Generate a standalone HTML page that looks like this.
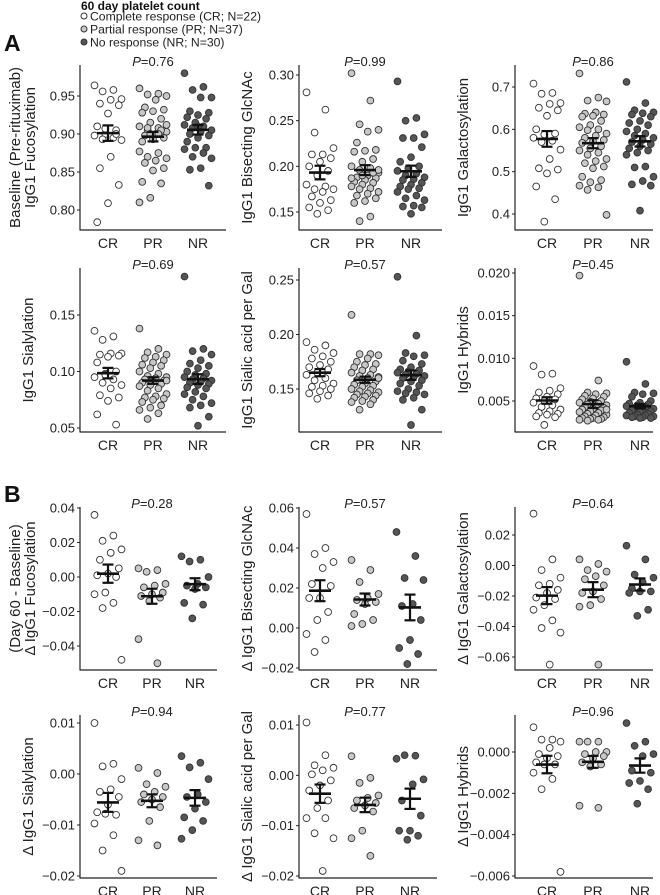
<!DOCTYPE html>
<html><head><meta charset="utf-8"><style>
body{margin:0;background:#fff;}
svg{display:block;font-family:"Liberation Sans",Arial,sans-serif;}
</style></head><body>
<svg id="fig" width="660" height="895" viewBox="0 0 660 895">
<text x="81" y="10" font-size="12" font-weight="bold" fill="#111">60 day platelet count</text>
<g><circle cx="84" cy="16" r="3" fill="#fff" stroke="#333"/><text x="90" y="20.5" font-size="12.2" fill="#222">Complete response (CR; N=22)</text></g>
<g><circle cx="84" cy="29" r="3" fill="#c8c8c8" stroke="#333"/><text x="90" y="33.5" font-size="12.2" fill="#222">Partial response (PR; N=37)</text></g>
<g><circle cx="84" cy="42" r="3" fill="#555" stroke="#333"/><text x="90" y="46.5" font-size="12.2" fill="#222">No response (NR; N=30)</text></g>
<text x="4" y="51" font-size="23" font-weight="bold" fill="#111">A</text>
<text x="4" y="502" font-size="23" font-weight="bold" fill="#111">B</text>
</svg>
<script>
const groups = ["CR","PR","NR"];
const pValues = ["0.76","0.99","0.86","0.69","0.57","0.45","0.28","0.57","0.64","0.94","0.77","0.96"];
const yTitles = [["Baseline (Pre-rituximab)","IgG1 Fucosylation"],["IgG1 Bisecting GlcNAc"],["IgG1 Galactosylation"],["IgG1 Sialylation"],["IgG1 Sialic acid per Gal"],["IgG1 Hybrids"],["(Day 60 - Baseline)","\u0394 IgG1 Fucosylation"],["\u0394 IgG1 Bisecting GlcNAc"],["\u0394 IgG1 Galactosylation"],["\u0394 IgG1 Sialylation"],["\u0394 IgG1 Sialic acid per Gal"],["\u0394 IgG1 Hybrids"]];
const tickValues = [[0.80,0.85,0.90,0.95],[0.15,0.20,0.25,0.30],[0.4,0.5,0.6,0.7],[0.05,0.10,0.15],[0.15,0.20,0.25],[0.005,0.010,0.015,0.020],[-0.04,-0.02,0,0.02,0.04],[-0.02,0,0.02,0.04,0.06],[-0.06,-0.04,-0.02,0,0.02],[-0.02,-0.01,0,0.01],[-0.02,-0.01,0,0.01],[-0.006,-0.004,-0.002,0]];
const tickLabels = [["0.80","0.85","0.90","0.95"],["0.15","0.20","0.25","0.30"],["0.4","0.5","0.6","0.7"],["0.05","0.10","0.15"],["0.15","0.20","0.25"],["0.005","0.010","0.015","0.020"],["\u22120.04","\u22120.02","0.00","0.02","0.04"],["\u22120.02","0.00","0.02","0.04","0.06"],["\u22120.06","\u22120.04","\u22120.02","0.00","0.02"],["\u22120.02","\u22120.01","0.00","0.01"],["\u22120.02","\u22120.01","0.00","0.01"],["\u22120.006","\u22120.004","\u22120.002","0.000"]];
const crValues = [
[0.964,0.958,0.956,0.946,0.945,0.940,0.938,0.927,0.910,0.905,0.900,0.898,0.895,0.893,0.892,0.870,0.855,0.833,0.809,0.784,0.900,0.907],
[0.281,0.262,0.237,0.220,0.213,0.213,0.209,0.205,0.200,0.195,0.190,0.180,0.178,0.175,0.175,0.172,0.167,0.163,0.160,0.155,0.152,0.148],
[0.708,0.686,0.684,0.662,0.660,0.651,0.645,0.632,0.600,0.590,0.588,0.580,0.573,0.570,0.552,0.530,0.508,0.505,0.496,0.465,0.435,0.382],
[0.136,0.131,0.128,0.116,0.116,0.115,0.114,0.113,0.108,0.100,0.098,0.095,0.093,0.090,0.088,0.085,0.079,0.077,0.074,0.062,0.053,0.097],
[0.193,0.190,0.186,0.183,0.180,0.178,0.175,0.172,0.170,0.168,0.165,0.163,0.160,0.158,0.155,0.153,0.152,0.150,0.148,0.146,0.144,0.141],
[0.0091,0.0082,0.0081,0.0065,0.0062,0.0060,0.0058,0.0055,0.0053,0.0052,0.0050,0.0048,0.0045,0.0043,0.0040,0.0038,0.0036,0.0035,0.0034,0.0032,0.0031,0.0022],
[0.036,0.024,0.021,0.016,0.014,0.010,0.005,0.002,0.001,0.000,-0.009,-0.010,-0.015,-0.018,-0.048],
[0.057,0.040,0.037,0.033,0.030,0.022,0.021,0.015,0.015,0.008,0.004,-0.003,-0.006,-0.012],
[0.034,0.004,-0.003,-0.008,-0.012,-0.013,-0.016,-0.018,-0.021,-0.022,-0.026,-0.029,-0.036,-0.041,-0.044,-0.065],
[0.010,0.002,0.0015,-0.001,-0.003,-0.0035,-0.0045,-0.006,-0.0075,-0.008,-0.0078,-0.0097,-0.012,-0.015,-0.019],
[0.0105,0.004,0.002,0.0015,0.001,0.0002,-0.001,-0.002,-0.003,-0.005,-0.0065,-0.0085,-0.0085,-0.0115,-0.0125,-0.019],
[0.0012,0.0006,0.0006,0.0005,0.0002,-0.0001,-0.0002,-0.0003,-0.0005,-0.0006,-0.0006,-0.0010,-0.0013,-0.0018,-0.0058]];
const prValues = [
[0.960,0.953,0.952,0.950,0.945,0.935,0.932,0.930,0.928,0.920,0.915,0.910,0.908,0.905,0.903,0.900,0.898,0.895,0.893,0.890,0.905,0.900,0.877,0.875,0.870,0.868,0.865,0.862,0.855,0.852,0.837,0.835,0.816,0.810,0.900,0.908,0.912],
[0.302,0.272,0.246,0.240,0.238,0.226,0.218,0.217,0.216,0.208,0.205,0.200,0.198,0.196,0.193,0.190,0.188,0.187,0.185,0.183,0.182,0.180,0.178,0.176,0.175,0.172,0.170,0.168,0.165,0.162,0.160,0.193,0.190,0.187,0.145,0.140,0.196],
[0.732,0.675,0.668,0.666,0.640,0.637,0.635,0.632,0.630,0.620,0.610,0.605,0.600,0.598,0.590,0.585,0.580,0.575,0.572,0.568,0.560,0.555,0.550,0.545,0.540,0.530,0.525,0.520,0.512,0.508,0.488,0.480,0.475,0.467,0.463,0.457,0.398],
[0.138,0.120,0.117,0.115,0.113,0.112,0.110,0.108,0.106,0.105,0.103,0.100,0.098,0.096,0.095,0.094,0.093,0.092,0.091,0.090,0.089,0.088,0.087,0.085,0.083,0.080,0.078,0.077,0.076,0.075,0.073,0.070,0.068,0.066,0.063,0.058,0.092],
[0.218,0.182,0.182,0.181,0.178,0.175,0.173,0.172,0.170,0.168,0.167,0.165,0.163,0.162,0.161,0.160,0.158,0.157,0.155,0.154,0.153,0.152,0.150,0.149,0.148,0.147,0.146,0.145,0.144,0.143,0.142,0.140,0.139,0.138,0.136,0.131,0.160],
[0.0197,0.0074,0.0060,0.0059,0.0058,0.0056,0.0055,0.0053,0.0052,0.0050,0.0049,0.0048,0.0047,0.0046,0.0045,0.0044,0.0043,0.0042,0.0041,0.0040,0.0039,0.0038,0.0037,0.0036,0.0035,0.0034,0.0033,0.0032,0.0031,0.0030,0.0030,0.0029,0.0029,0.0028,0.0028,0.0027,0.0040],
[0.005,0.004,0.003,-0.004,-0.005,-0.006,-0.009,-0.010,-0.011,-0.012,-0.014,-0.036,-0.050],
[0.034,0.029,0.023,0.017,0.015,0.014,0.013,0.012,0.007,0.004,0.002,0.001],
[0.004,0.001,-0.003,-0.004,-0.007,-0.009,-0.013,-0.017,-0.018,-0.022,-0.026,-0.027,-0.065],
[0.0012,0.0002,-0.002,-0.0025,-0.0035,-0.004,-0.0045,-0.005,-0.0055,-0.0065,-0.0092,-0.013,-0.014],
[0.0038,-0.0005,-0.0015,-0.004,-0.0045,-0.005,-0.0055,-0.006,-0.0065,-0.0072,-0.011,-0.0125,-0.016],
[0.0005,0.0005,0.0005,0.0000,0.0000,-0.0001,-0.0002,-0.0003,-0.0005,-0.0006,-0.0007,-0.0026,-0.0027]];
const nrValues = [
[0.980,0.962,0.958,0.948,0.948,0.930,0.928,0.925,0.922,0.920,0.915,0.912,0.910,0.908,0.905,0.903,0.900,0.898,0.895,0.890,0.882,0.882,0.880,0.875,0.870,0.868,0.855,0.853,0.832,0.910],
[0.293,0.253,0.250,0.235,0.231,0.231,0.221,0.210,0.205,0.200,0.198,0.195,0.192,0.190,0.188,0.186,0.185,0.182,0.180,0.178,0.176,0.175,0.172,0.168,0.165,0.163,0.157,0.156,0.155,0.148],
[0.712,0.662,0.645,0.640,0.638,0.635,0.630,0.620,0.615,0.610,0.600,0.595,0.590,0.585,0.580,0.575,0.570,0.565,0.560,0.555,0.550,0.545,0.540,0.512,0.510,0.488,0.478,0.470,0.467,0.408],
[0.184,0.120,0.118,0.115,0.110,0.107,0.105,0.103,0.100,0.098,0.097,0.095,0.094,0.093,0.092,0.091,0.090,0.089,0.088,0.086,0.085,0.082,0.080,0.078,0.075,0.072,0.070,0.068,0.060,0.052],
[0.253,0.199,0.183,0.181,0.180,0.176,0.173,0.170,0.168,0.167,0.166,0.165,0.164,0.163,0.162,0.161,0.160,0.158,0.157,0.155,0.153,0.150,0.148,0.147,0.146,0.145,0.142,0.140,0.131,0.117],
[0.0096,0.0070,0.0060,0.0059,0.0058,0.0055,0.0050,0.0048,0.0047,0.0046,0.0045,0.0044,0.0043,0.0042,0.0041,0.0040,0.0039,0.0038,0.0037,0.0036,0.0035,0.0034,0.0033,0.0033,0.0032,0.0032,0.0031,0.0031,0.0030,0.0030],
[0.012,0.010,0.009,0.000,-0.004,-0.005,-0.006,-0.007,-0.015,-0.016,-0.024],
[0.048,0.036,0.025,0.024,0.012,0.011,0.004,-0.006,-0.010,-0.013,-0.018],
[0.013,0.004,-0.006,-0.008,-0.011,-0.015,-0.017,-0.017,-0.018,-0.029,-0.033],
[0.0035,0.0022,0.0013,-0.001,-0.004,-0.0045,-0.0055,-0.0068,-0.0085,-0.0092,-0.011,-0.0127],
[0.0033,0.0039,0.004,-0.0008,-0.0018,-0.005,-0.008,-0.011,-0.011,-0.012,-0.0128],
[0.0014,0.0005,0.0003,-0.0001,-0.0002,-0.0009,-0.0010,-0.0014,-0.0015,-0.0018,-0.0025]];

// layout (not data)
const colAxisX = [80,299,515];
const colRightA = [226,442,653], colRightB = [217,437,653];
const centersA = [[108,153,198],[320,365,411],[547,593,640]];
const centersB = [[108,152,195],[320,365,410],[547,593,640]];
const rowTop = [65,268,507,715], rowBottom = [230,432,670,878];
const calib = [[210,96],[212,75],[214,87],[428,315],[389,280],[401,273],[646,508],[668,508],[657,535],[876,723],[876,725],[876,752]];
const fills = ["#ffffff","#c8c8c8","#555555"];
const NS = "http://www.w3.org/2000/svg";
const svg = document.getElementById('fig');
function mk(tag, attrs, parent){const e=document.createElementNS(NS,tag);for(const k in attrs)e.setAttribute(k,attrs[k]);(parent||svg).appendChild(e);return e;}

for(let p=0;p<12;p++){
  const row=Math.floor(p/3), col=p%3, isB=row>=2;
  const ax=colAxisX[col], right=(isB?colRightB:colRightA)[col];
  const top=rowTop[row], bot=rowBottom[row];
  const tv=tickValues[p];
  const v0=tv[0], v1=tv[tv.length-1], p0=calib[p][0], p1=calib[p][1];
  const yS=v=>p0+(v-v0)*(p1-p0)/(v1-v0);
  const centers=(isB?centersB:centersA)[col];
  const g=mk('g',{});
  
  
  const ya=mk('line',{x1:ax,y1:top,x2:ax,y2:bot+0.5,stroke:'#222','stroke-width':1.2},g);
  
  
  const xa=mk('line',{x1:ax,y1:bot,x2:right,y2:bot,stroke:'#222','stroke-width':1.2},g);
  
  
  tv.forEach((v,i)=>{
    const y=yS(v);
    mk('line',{x1:ax-3,y1:y,x2:ax,y2:y,stroke:'#222','stroke-width':1},g);
    const t=mk('text',{x:ax-5,y:y+4.5,'font-size':13,'text-anchor':'end',fill:'#222'},g);
    t.textContent=tickLabels[p][i];
    
    
  });
  groups.forEach((gname,gi)=>{
    const t=mk('text',{x:centers[gi],y:bot+18,'font-size':14,'text-anchor':'middle',fill:'#222'},g);
    t.textContent=gname;
    
    
  });
  const titles=yTitles[p];
  const tx0 = col===0 ? (titles.length>1?20:33) : ax-47;
  const cy=(top+bot)/2;
  titles.forEach((s,i)=>{
    const x=tx0+i*15;
    const t=mk('text',{x:x,y:cy,'font-size':15,'text-anchor':'middle',fill:'#222',transform:'rotate(-90 '+x+' '+cy+')'},g);
    t.textContent=s;
    
    
  });
  const pt=mk('text',{x:centers[1],y:top+1,'font-size':13,'text-anchor':'middle',fill:'#222'},g);
  
  
  const pi=mk('tspan',{'font-style':'italic'},pt); pi.textContent='P';
  const pr=mk('tspan',{},pt); pr.textContent='='+pValues[p];
  [crValues[p],prValues[p],nrValues[p]].forEach((vals,gi)=>{
    vals.forEach((v,i)=>{
      const off=(((i*7)%11)-5)*2.7;
      const c=mk('circle',{cx:centers[gi]+off,cy:yS(v),r:3.4,fill:fills[gi],stroke:'#333','stroke-width':0.9},g);
      
      
    });
    const n=vals.length, m=vals.reduce((a,b)=>a+b,0)/n;
    const sd=Math.sqrt(vals.reduce((a,b)=>a+(b-m)*(b-m),0)/(n-1)), se=sd/Math.sqrt(n);
    const cx=centers[gi];
    const eb=mk('g',{stroke:'#111','stroke-width':2.2},g);
    
    
    mk('line',{x1:cx-11,y1:yS(m),x2:cx+11,y2:yS(m),'stroke-width':2.6},eb);
    mk('line',{x1:cx,y1:yS(m-se),x2:cx,y2:yS(m+se)},eb);
    mk('line',{x1:cx-5.5,y1:yS(m-se),x2:cx+5.5,y2:yS(m-se)},eb);
    mk('line',{x1:cx-5.5,y1:yS(m+se),x2:cx+5.5,y2:yS(m+se)},eb);
  });
}
</script>
</body></html>
